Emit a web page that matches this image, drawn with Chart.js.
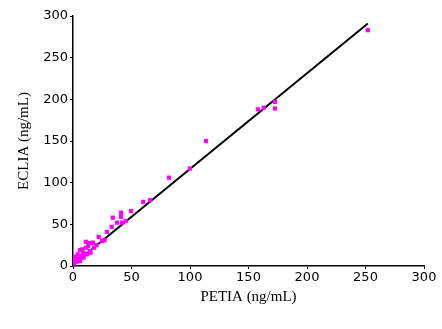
<!DOCTYPE html>
<html>
<head>
<meta charset="utf-8">
<script src="https://cdn.jsdelivr.net/npm/chart.js@4/dist/chart.umd.min.js"></script>
<style>
  html, body { margin: 0; padding: 0; background: #fff; }
  #wrap { width: 442px; height: 329px; }
</style>
</head>
<body>
<div id="wrap"><canvas id="c" width="442" height="329"></canvas></div>
<script>
// PETIA vs ECLIA measurements (ng/mL)
const petia = [252, 172.6, 172.6, 163, 158, 113.7, 100, 82, 66, 60, 49.6, 41, 41, 34, 37.6, 42, 45, 33, 29, 27,
  22, 17, 14.5, 11, 11, 14.5, 8.5, 10, 6, 2, 0.5, 3, 5, 7, 9, 12, 4, 1, 6, 13, 18, 20, 8, 3, 15, 25];
const eclia = [283, 197, 189, 190, 188, 150, 117, 106, 79, 77, 66, 64, 59, 58, 52, 52, 54, 47, 41, 31,
  35, 28, 27.6, 29, 22, 18, 15.6, 15, 19, 11, 7, 5, 9, 12, 10, 14, 14, 3, 6, 24, 22, 25, 20, 8, 16, 30];

// regression line end points
const fitX = [2, 252];
const fitY = [4, 291];

const xTicks = [0, 50, 100, 150, 200, 250, 300];
const yTicks = [0, 50, 100, 150, 200, 250, 300];

const tickFont = { family: "DejaVu Sans", size: 13 };
const titleFont = { family: "Liberation Serif", size: 15 };

new Chart(document.getElementById("c"), {
  type: "scatter",
  data: {
    datasets: [
      {
        label: "Samples",
        data: petia.map((x, i) => ({ x: x, y: eclia[i] })),
        pointStyle: "rect",
        pointRadius: 3,
        backgroundColor: "#ff00ff",
        borderColor: "#ff00ff",
        borderWidth: 0,
      },
      {
        label: "Fit",
        type: "line",
        data: fitX.map((x, i) => ({ x: x, y: fitY[i] })),
        borderColor: "#000",
        borderWidth: 2,
        pointRadius: 0,
        fill: false,
      },
    ],
  },
  options: {
    responsive: false,
    animation: false,
    layout: { padding: { top: 16, right: 18, left: 11, bottom: 19 } },
    plugins: { legend: { display: false }, tooltip: { enabled: false } },
    scales: {
      x: {
        type: "linear",
        min: 0,
        max: 300,
        afterBuildTicks: (s) => { s.ticks = xTicks.map((v) => ({ value: v })); },
        afterFit: (s) => { s.height = 44; },
        grid: { drawOnChartArea: false, tickLength: 3, color: "#000" },
        border: { color: "#000", width: 1.5 },
        ticks: { color: "#000", font: tickFont, padding: 1, maxRotation: 0 },
        title: { display: true, text: "PETIA (ng/mL)", color: "#000", font: titleFont, padding: { top: 2 } },
      },
      y: {
        type: "linear",
        min: 0,
        max: 300,
        afterBuildTicks: (s) => { s.ticks = yTicks.map((v) => ({ value: v })); },
        afterFit: (s) => { s.width = 62; },
        grid: { drawOnChartArea: false, tickLength: 3, color: "#000" },
        border: { color: "#000", width: 1.5 },
        ticks: { color: "#000", font: tickFont, padding: 2 },
        title: { display: true, text: "ECLIA (ng/mL)", color: "#000", font: titleFont, padding: { bottom: 2 } },
      },
    },
  },
});
</script>
</body>
</html>
